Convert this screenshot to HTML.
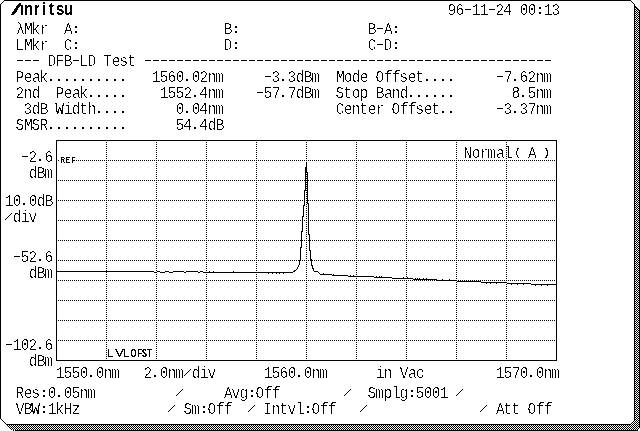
<!DOCTYPE html>
<html lang="en"><head><meta charset="utf-8"><title>Anritsu DFB-LD Test</title>
<style>
html,body{margin:0;padding:0;background:#fff;}
body{width:640px;height:431px;overflow:hidden;}
svg{display:block;}
.t{font-family:"Liberation Mono",monospace;font-size:16.69px;fill:#000;text-anchor:middle;white-space:pre;}
.d{font-size:20px;}.p{font-size:16px;}.z{stroke:none;}.c{font-size:13.1px;stroke:#000;stroke-width:0.4px;}.w{stroke:#000;stroke-width:0.3px;}.pr{font-size:11.8px;stroke:#000;stroke-width:0.5px;}
.sl{font-family:"Liberation Sans",sans-serif;font-size:13px;fill:#000;text-anchor:middle;}
.s{font-family:"Liberation Sans",sans-serif;fill:#000;}
.logo{font-family:"Liberation Sans",sans-serif;font-weight:bold;fill:#000;}
.px{shape-rendering:crispEdges;}
</style></head><body>
<svg width="640" height="431" viewBox="0 0 640 431">
<defs><pattern id="dz" x="0" y="0" width="2" height="2" patternUnits="userSpaceOnUse"><rect x="0" y="0" width="1" height="1" fill="#000"/><rect x="1" y="1" width="1" height="1" fill="#000"/></pattern><filter id="bw" x="0" y="0" width="640" height="431" filterUnits="userSpaceOnUse" color-interpolation-filters="sRGB"><feComponentTransfer><feFuncA type="discrete" tableValues="0 0 1"/></feComponentTransfer></filter><filter id="bw3" x="0" y="0" width="640" height="431" filterUnits="userSpaceOnUse" color-interpolation-filters="sRGB"><feComponentTransfer><feFuncA type="discrete" tableValues="0 0 1 1 1"/></feComponentTransfer></filter><filter id="bw2" x="0" y="-20" width="100" height="30" filterUnits="userSpaceOnUse" color-interpolation-filters="sRGB"><feComponentTransfer><feFuncA type="discrete" tableValues="0 1"/></feComponentTransfer></filter></defs>
<rect x="0" y="0" width="640" height="431" fill="#fff"/>
<g class="px">
<path d="M635 6h1v1h1v1h1v1h1v1h1V430H12v-1h-1v-1h-1v-1h-1v-1h-1v-1h-1H631v-1h1v-1h1v-1h1h1z" fill="url(#dz)"/>
<path fill="#000" d="M639 11h1v417h-1zM16 430h622v1h-622zM635 6h1v1h-1zM636 7h1v1h-1zM637 8h1v1h-1zM638 9h1v1h-1zM639 10h1v1h-1zM7 425h1v1h-1zM8 426h1v1h-1zM9 427h1v1h-1zM10 428h1v1h-1zM11 429h1v1h-1zM13 430h1v1h-1zM15 430h1v1h-1z"/>
<path fill="#fff" d="M639 428h1v1h-1zM639 429h1v1h-1zM639 430h1v1h-1zM638 429h1v1h-1zM638 430h1v1h-1z"/>
<path fill="#000" d="M4 0h627v1h-627zM0 4h1v415h-1zM634 4h1v417h-1zM6 424h625v1h-625zM3 1h1v1h-1zM2 2h1v1h-1zM1 3h1v1h-1zM631 1h1v1h-1zM632 2h1v1h-1zM633 3h1v1h-1zM1 419h1v1h-1zM2 420h1v1h-1zM3 421h1v1h-1zM4 422h1v1h-1zM5 423h1v1h-1zM633 421h1v1h-1zM632 422h1v1h-1zM631 423h1v1h-1z"/>
</g>
<g class="px" stroke="#000" stroke-width="1" fill="none">
<path d="M56 140.5 H557 M56 360.5 H557 M56.5 140 V361 M556.5 140 V361"/>
<path stroke-dasharray="1 1" d="M58 160.5 H556 M58 180.5 H556 M58 200.5 H556 M58 220.5 H556 M58 240.5 H556 M58 260.5 H556 M58 280.5 H556 M58 300.5 H556 M58 320.5 H556 M58 340.5 H556"/>
<path stroke-dasharray="1 1" d="M106.5 142 V360 M156.5 142 V360 M206.5 142 V360 M256.5 142 V360 M306.5 142 V360 M356.5 142 V360 M406.5 142 V360 M456.5 142 V360 M506.5 142 V360"/>
</g>
<g class="px">
<path d="M56 271h98v1h-98zM154 272h3v1h-3zM157 271h3v1h-3zM160 272h5v1h-5zM165 271h4v1h-4zM169 272h4v1h-4zM173 271h11v1h-11zM184 272h2v1h-2zM186 271h12v1h-12zM198 272h2v1h-2zM200 271h3v1h-3zM203 272h6v1h-6zM209 271h1v2h-1zM210 272h3v1h-3zM213 271h1v2h-1zM214 272h19v1h-19zM233 271h1v2h-1zM234 272h34v1h-34zM268 272h1v2h-1zM269 272h3v1h-3zM272 272h1v2h-1zM273 272h3v1h-3zM276 272h1v2h-1zM277 272h2v1h-2zM279 272h1v2h-1zM280 272h3v1h-3zM283 272h1v2h-1zM284 272h9v1h-9zM293 271h1v1h-1zM294 270h1v2h-1zM295 270h1v1h-1zM296 269h1v1h-1zM297 267h1v2h-1zM298 265h1v2h-1zM299 260h1v5h-1zM300 247h1v13h-1zM301 231h1v17h-1zM302 216h1v16h-1zM303 205h1v12h-1zM304 190h1v16h-1zM305 167h1v24h-1zM306 162h1v10h-1zM307 172h1v32h-1zM308 203h1v32h-1zM309 234h1v17h-1zM310 250h1v10h-1zM311 259h1v7h-1zM312 265h1v4h-1zM313 268h1v3h-1zM314 271h4v1h-4zM318 272h1v1h-1zM319 273h1v1h-1zM320 274h3v1h-3zM323 273h1v2h-1zM324 274h8v1h-8zM332 275h1v1h-1zM333 274h1v2h-1zM334 275h14v1h-14zM348 276h2v1h-2zM350 275h1v2h-1zM351 276h2v1h-2zM353 275h1v2h-1zM354 276h20v1h-20zM374 277h2v1h-2zM376 276h1v2h-1zM377 277h2v1h-2zM379 276h1v2h-1zM380 277h1v1h-1zM381 276h1v2h-1zM382 277h10v1h-10zM392 278h11v1h-11zM403 277h1v2h-1zM404 278h3v1h-3zM407 277h1v2h-1zM408 278h5v1h-5zM413 279h2v1h-2zM415 278h1v2h-1zM416 279h1v1h-1zM417 278h1v2h-1zM418 279h1v1h-1zM419 278h1v2h-1zM420 279h3v1h-3zM423 278h1v2h-1zM424 279h2v1h-2zM426 278h1v2h-1zM427 279h10v1h-10zM437 280h5v1h-5zM442 279h1v2h-1zM443 280h6v1h-6zM449 279h1v2h-1zM450 280h7v1h-7zM457 281h24v1h-24zM481 282h5v1h-5zM486 282h1v2h-1zM487 282h3v1h-3zM490 282h1v2h-1zM491 282h5v1h-5zM496 282h1v2h-1zM497 282h10v1h-10zM507 283h4v1h-4zM511 283h1v2h-1zM512 283h5v1h-5zM517 283h1v2h-1zM518 283h5v1h-5zM523 283h1v2h-1zM524 283h7v1h-7zM531 284h4v1h-4zM535 284h1v2h-1zM536 284h5v1h-5zM541 284h1v2h-1zM542 284h5v1h-5zM547 284h1v2h-1zM548 284h8v1h-8zM556 284h1v3h-1z" fill="#000"/>
</g>
<rect class="px" x="60" y="160" width="16" height="1" fill="#fff"/>
<g filter="url(#bw3)">
<g transform="translate(0,163) scale(0.62,1)"><text class="s" style="font-weight:bold;font-size:9.5px;text-anchor:middle" x="101.61 109.68 117.74" y="0">REF</text></g>
<g transform="translate(0,357)"><g transform="scale(1.1,1)"><text class="s" style="font-size:11.6px;text-anchor:middle" x="100.36 108.64 114.91" y="0">LVL</text></g><g transform="scale(0.62,1)"><text class="s" style="font-size:11.6px;text-anchor:middle;stroke:#000;stroke-width:0.3px" x="215.32 225.16 233.06 241.13" y="0">OFST</text></g></g>
</g>
<g transform="translate(0,15)"><g filter="url(#bw2)"><g transform="translate(10.6,0) skewX(-19.6) scale(0.98,1)"><text class="logo" style="font-size:17.44px;stroke:#000;stroke-width:0.8px" x="0" y="0">A</text></g></g><polygon class="px" points="14.3,0.5 21,0.5 21,-10.2" fill="#fff"/><rect class="px" x="21" y="-13" width="3" height="3" fill="#fff"/><g filter="url(#bw2)"><g transform="scale(0.8,1)"><text class="logo" style="font-size:18.5px;text-anchor:middle" x="35.62 45.75 55 64.25 75 85.5" y="0">nritsu</text></g></g></g>
<g filter="url(#bw)">
<g transform="translate(448,15) scale(0.877,1)"><text class="t" x="4.44 13.56" y="0">96</text></g><g transform="translate(448,13.1404) scale(1.37,0.82)"><text class="t" style="stroke:none" x="14.6" y="0">-</text></g><g transform="translate(448,15) scale(0.877,1)"><text class="t" x="32.09 41.21" y="0">11</text></g><g transform="translate(448,13.1404) scale(1.37,0.82)"><text class="t" style="stroke:none" x="32.12" y="0">-</text></g><g transform="translate(448,15) scale(0.877,1)"><text class="t" x="59.17 68.01 77.54 86.82 95.94 104.9 114.19 123.02" y="0 0 0 0 0 -1 0 0">24 <tspan class="z">0</tspan><tspan class="z">0</tspan><tspan class="c">:</tspan>13</text></g>
<g transform="translate(16,34) scale(0.877,1)"><text class="t" x="5.01 14.13 22.4 32.09" y="0">λMkr</text></g> <g transform="translate(16,34) scale(0.877,1)"><text class="t" x="59.74 68.42" y="0 -1">A<tspan class="c">:</tspan></text></g>
<g transform="translate(224,34) scale(0.877,1)"><text class="t" x="4.72 13.68" y="0 -1">B<tspan class="c">:</tspan></text></g>
<g transform="translate(368,34) scale(0.877,1)"><text class="t" x="4.72" y="0">B</text></g><g transform="translate(368,32.1404) scale(1.37,0.82)"><text class="t" style="stroke:none" x="8.76" y="0">-</text></g><g transform="translate(368,34) scale(0.877,1)"><text class="t" x="23.25 31.93" y="0 -1">A<tspan class="c">:</tspan></text></g>
<g transform="translate(16,50) scale(0.877,1)"><text class="t" x="4.15 14.13 22.4 32.09" y="0">LMkr</text></g> <g transform="translate(16,50) scale(0.877,1)"><text class="t" x="59.45 68.42" y="0 -1">C<tspan class="c">:</tspan></text></g>
<g transform="translate(224,50) scale(0.877,1)"><text class="t" x="4.44 13.68" y="0 -1">D<tspan class="c">:</tspan></text></g>
<g transform="translate(368,50) scale(0.877,1)"><text class="t" x="4.72" y="0">C</text></g><g transform="translate(368,48.1404) scale(1.37,0.82)"><text class="t" style="stroke:none" x="8.76" y="0">-</text></g><g transform="translate(368,50) scale(0.877,1)"><text class="t" x="22.68 31.93" y="0 -1">D<tspan class="c">:</tspan></text></g>
<g transform="translate(16,64.1404) scale(1.37,0.82)"><text class="t" style="stroke:none" x="2.92 8.76 14.6" y="0">---</text></g>
<g transform="translate(48,66) scale(0.877,1)"><text class="t" x="4.44 13.56 22.97" y="0">DFB</text></g><g transform="translate(48,64.1404) scale(1.37,0.82)"><text class="t" style="stroke:none" x="20.44" y="0">-</text></g><g transform="translate(48,66) scale(0.877,1)"><text class="t" x="40.64 50.05 59.29 68.01 77.7 86.53 95.37" y="0">LD Test</text></g>
<g transform="translate(144,64.1404) scale(1.37,0.82)"><text class="t" style="stroke:none" x="2.92 8.76 14.6 20.44 26.28 32.12 37.96 43.8 49.64 55.47 61.31 67.15 72.99 78.83 84.67 90.51 96.35 102.19 108.03 113.87 119.71 125.55 131.39 137.23 143.07 148.91 154.74 160.58 166.42 172.26 178.1 183.94 189.78 195.62 201.46 207.3 213.14 218.98 224.82 230.66 236.5 242.34 248.18 254.01 259.85 265.69 271.53 277.37 283.21 289.05 294.89" y="0">---------------------------------------------------</text></g>
<g transform="translate(16,82) scale(0.877,1)"><text class="t" x="4.44 13.84 23.25 31.52 39.91 49.03 58.15 67.27 76.4 85.52 94.64 103.76 112.88 122.01" y="0 0 0 0 -0.85 -0.85 -0.85 -0.85 -0.85 -0.85 -0.85 -0.85 -0.85 -0.85">Peak<tspan class="p">.</tspan><tspan class="p">.</tspan><tspan class="p">.</tspan><tspan class="p">.</tspan><tspan class="p">.</tspan><tspan class="p">.</tspan><tspan class="p">.</tspan><tspan class="p">.</tspan><tspan class="p">.</tspan><tspan class="p">.</tspan></text></g>
<g transform="translate(152,82) scale(0.877,1)"><text class="t" x="4.72 13.56 22.68 32.09 39.91 50.33 59.17 68.29 77.13" y="0 0 0 0 -0.85 0 0 0 0">156<tspan class="z">0</tspan><tspan class="p">.</tspan><tspan class="z">0</tspan>2nm</text></g>
<g transform="translate(264,80.1404) scale(1.37,0.82)"><text class="t" style="stroke:none" x="2.92" y="0">-</text></g><g transform="translate(264,82) scale(0.877,1)"><text class="t" x="13.56 21.66 31.8 41.21 50.33 58.88" y="0 -0.85 0 0 0 0">3<tspan class="p">.</tspan>3dBm</text></g>
<g transform="translate(336,82) scale(0.877,1)"><text class="t" x="5.01 13.84 22.97 32.09 41.05 50.05 59.74 68.86 77.41 86.82 95.37 103.76 112.88 122.01 131.13" y="0 0 0 0 0 0 0 0 0 0 0 -0.85 -0.85 -0.85 -0.85">Mode Offset<tspan class="p">.</tspan><tspan class="p">.</tspan><tspan class="p">.</tspan><tspan class="p">.</tspan></text></g>
<g transform="translate(496,80.1404) scale(1.37,0.82)"><text class="t" style="stroke:none" x="2.92" y="0">-</text></g><g transform="translate(496,82) scale(0.877,1)"><text class="t" x="14.13 21.66 31.8 40.92 50.05 58.88" y="0 -0.85 0 0 0 0">7<tspan class="p">.</tspan>62nm</text></g>
<g transform="translate(16,98) scale(0.877,1)"><text class="t" x="4.44 13.56 22.97" y="0">2nd</text></g> <g transform="translate(16,98) scale(0.877,1)"><text class="t" x="50.05 59.45 68.86 77.13 85.52 94.64 103.76 112.88 122.01" y="0 0 0 0 -0.85 -0.85 -0.85 -0.85 -0.85">Peak<tspan class="p">.</tspan><tspan class="p">.</tspan><tspan class="p">.</tspan><tspan class="p">.</tspan><tspan class="p">.</tspan></text></g>
<g transform="translate(160,98) scale(0.877,1)"><text class="t" x="4.72 13.56 22.68 31.8 39.91 49.76 59.17 68.01" y="0 0 0 0 -0.85 0 0 0">1552<tspan class="p">.</tspan>4nm</text></g>
<g transform="translate(256,96.1404) scale(1.37,0.82)"><text class="t" style="stroke:none" x="2.92" y="0">-</text></g><g transform="translate(256,98) scale(0.877,1)"><text class="t" x="13.56 23.25 30.79 41.49 50.33 59.45 68.01" y="0 0 -0.85 0 0 0 0">57<tspan class="p">.</tspan>7dBm</text></g>
<g transform="translate(336,98) scale(0.877,1)"><text class="t" x="4.44 13.27 22.97 31.8 41.05 50.33 59.74 68.29 77.7 85.52 94.64 103.76 112.88 122.01 131.13" y="0 0 0 0 0 0 0 0 0 -0.85 -0.85 -0.85 -0.85 -0.85 -0.85">Stop Band<tspan class="p">.</tspan><tspan class="p">.</tspan><tspan class="p">.</tspan><tspan class="p">.</tspan><tspan class="p">.</tspan><tspan class="p">.</tspan></text></g>
<g transform="translate(512,98) scale(0.877,1)"><text class="t" x="4.44 12.54 22.68 31.8 40.64" y="0 -0.85 0 0 0">8<tspan class="p">.</tspan>5nm</text></g>
<g transform="translate(16,114) scale(0.877,1)"><text class="t" x="13.56 22.97 32.09 41.05 49.76 59.45 68.58 77.13 86.53 94.64 103.76 112.88 122.01" y="0 0 0 0 0 0 0 0 0 -0.85 -0.85 -0.85 -0.85">3dB <tspan class="w">W</tspan>idth<tspan class="p">.</tspan><tspan class="p">.</tspan><tspan class="p">.</tspan><tspan class="p">.</tspan></text></g>
<g transform="translate(176,114) scale(0.877,1)"><text class="t" x="4.72 12.54 22.97 31.52 40.92 49.76" y="0 -0.85 0 0 0 0"><tspan class="z">0</tspan><tspan class="p">.</tspan><tspan class="z">0</tspan>4nm</text></g>
<g transform="translate(336,114) scale(0.877,1)"><text class="t" x="4.72 13.84 22.68 31.52 41.21 50.33 59.29 68.29 77.98 87.1 95.66 105.06 113.62 122.01 131.13" y="0 0 0 0 0 0 0 0 0 0 0 0 0 -0.85 -0.85">Center Offset<tspan class="p">.</tspan><tspan class="p">.</tspan></text></g>
<g transform="translate(496,112.14) scale(1.37,0.82)"><text class="t" style="stroke:none" x="2.92" y="0">-</text></g><g transform="translate(496,114) scale(0.877,1)"><text class="t" x="13.56 21.66 31.8 41.49 50.05 58.88" y="0 -0.85 0 0 0 0">3<tspan class="p">.</tspan>37nm</text></g>
<g transform="translate(16,130) scale(0.877,1)"><text class="t" x="4.44 14.13 22.68 31.8 39.91 49.03 58.15 67.27 76.4 85.52 94.64 103.76 112.88 122.01" y="0 0 0 0 -0.85 -0.85 -0.85 -0.85 -0.85 -0.85 -0.85 -0.85 -0.85 -0.85">SMSR<tspan class="p">.</tspan><tspan class="p">.</tspan><tspan class="p">.</tspan><tspan class="p">.</tspan><tspan class="p">.</tspan><tspan class="p">.</tspan><tspan class="p">.</tspan><tspan class="p">.</tspan><tspan class="p">.</tspan><tspan class="p">.</tspan></text></g>
<g transform="translate(176,130) scale(0.877,1)"><text class="t" x="4.44 13.27 21.66 31.52 41.21 50.33" y="0 0 -0.85 0 0 0">54<tspan class="p">.</tspan>4dB</text></g>
<g transform="translate(21,160.14) scale(1.37,0.82)"><text class="t" style="stroke:none" x="2.92" y="0">-</text></g><g transform="translate(21,162) scale(0.877,1)"><text class="t" x="13.56 21.66 31.8" y="0 -0.85 0">2<tspan class="p">.</tspan>6</text></g>
<g transform="translate(29,178) scale(0.877,1)"><text class="t" x="4.72 13.84 22.4" y="0">dBm</text></g>
<g transform="translate(5,206) scale(0.877,1)"><text class="t" x="4.72 13.84 21.66 32.09 41.21 50.33" y="0 0 -0.85 0 0 0">1<tspan class="z">0</tspan><tspan class="p">.</tspan><tspan class="z">0</tspan>dB</text></g>
<g transform="translate(8.5,216.5) rotate(30)"><text class="sl" x="0" y="4.5">/</text></g><g transform="translate(5,222) scale(0.877,1)"><text class="t" x="13.84 22.97 31.8" y="0">div</text></g>
<g transform="translate(13,260.14) scale(1.37,0.82)"><text class="t" style="stroke:none" x="2.92" y="0">-</text></g><g transform="translate(13,262) scale(0.877,1)"><text class="t" x="13.56 22.68 30.79 40.92" y="0 0 -0.85 0">52<tspan class="p">.</tspan>6</text></g>
<g transform="translate(29,278) scale(0.877,1)"><text class="t" x="4.72 13.84 22.4" y="0">dBm</text></g>
<g transform="translate(5,348.14) scale(1.37,0.82)"><text class="t" style="stroke:none" x="2.92" y="0">-</text></g><g transform="translate(5,350) scale(0.877,1)"><text class="t" x="13.84 22.97 31.8 39.91 50.05" y="0 0 0 -0.85 0">1<tspan class="z">0</tspan>2<tspan class="p">.</tspan>6</text></g>
<g transform="translate(29,366) scale(0.877,1)"><text class="t" x="4.72 13.84 22.4" y="0">dBm</text></g>
<g transform="translate(464,158) scale(0.877,1)"><text class="t" x="4.44 13.84 22.97 31.52 41.49 50.33 61 68.42 77.98 86.66 94.07" y="0 0 0 0 0 0 -2.45 0 0 0 -2.45">Normal<tspan class="pr">(</tspan> A <tspan class="pr">)</tspan></text></g>
<g transform="translate(56,378) scale(0.877,1)"><text class="t" x="4.72 13.56 22.68 32.09 39.91 50.33 59.17 68.01" y="0 0 0 0 -0.85 0 0 0">155<tspan class="z">0</tspan><tspan class="p">.</tspan><tspan class="z">0</tspan>nm</text></g>
<g transform="translate(144,378) scale(0.877,1)"><text class="t" x="4.44 12.54 22.97 31.8 40.64" y="0 -0.85 0 0 0">2<tspan class="p">.</tspan><tspan class="z">0</tspan>nm</text></g><g transform="translate(187.5,372.5) rotate(30)"><text class="sl" x="0" y="4.5">/</text></g><g transform="translate(144,378) scale(0.877,1)"><text class="t" x="59.45 68.58 77.41" y="0">div</text></g>
<g transform="translate(264,378) scale(0.877,1)"><text class="t" x="4.72 13.56 22.68 32.09 39.91 50.33 59.17 68.01" y="0 0 0 0 -0.85 0 0 0">156<tspan class="z">0</tspan><tspan class="p">.</tspan><tspan class="z">0</tspan>nm</text></g>
<g transform="translate(376,378) scale(0.877,1)"><text class="t" x="4.72 13.56 22.81 32.09 41.49 50.33" y="0">in Vac</text></g>
<g transform="translate(496,378) scale(0.877,1)"><text class="t" x="4.72 13.56 23.25 32.09 39.91 50.33 59.17 68.01" y="0 0 0 0 -0.85 0 0 0">157<tspan class="z">0</tspan><tspan class="p">.</tspan><tspan class="z">0</tspan>nm</text></g>
<g transform="translate(16,398) scale(0.877,1)"><text class="t" x="4.44 13.84 22.68 31.93 41.21 49.03 59.45 68.29 77.41 86.25" y="0 0 0 -1 0 -0.85 0 0 0 0">Res<tspan class="c">:</tspan><tspan class="z">0</tspan><tspan class="p">.</tspan><tspan class="z">0</tspan>5nm</text></g>
<g transform="translate(179.5,392.5) rotate(30)"><text class="sl" x="0" y="4.5">/</text></g>
<g transform="translate(224,398) scale(0.877,1)"><text class="t" x="5.01 13.56 22.68 31.93 40.92 50.62 59.74" y="0 0 0 -1 0 0 0">Avg<tspan class="c">:</tspan>Off</text></g>
<g transform="translate(347.5,392.5) rotate(30)"><text class="sl" x="0" y="4.5">/</text></g>
<g transform="translate(368,398) scale(0.877,1)"><text class="t" x="4.44 13.27 22.68 32.09 40.92 50.17 59.17 68.58 77.7 86.82" y="0 0 0 0 0 -1 0 0 0 0">Smplg<tspan class="c">:</tspan>5<tspan class="z">0</tspan><tspan class="z">0</tspan>1</text></g>
<g transform="translate(459.5,392.5) rotate(30)"><text class="sl" x="0" y="4.5">/</text></g>
<g transform="translate(16,414) scale(0.877,1)"><text class="t" x="4.72 13.84 22.4 31.93 41.21 49.76 59.45 68.58" y="0 0 0 -1 0 0 0 0">VB<tspan class="w">W</tspan><tspan class="c">:</tspan>1kHz</text></g>
<g transform="translate(171.5,408.5) rotate(30)"><text class="sl" x="0" y="4.5">/</text></g> <g transform="translate(168,414) scale(0.877,1)"><text class="t" x="22.68 31.52 41.05 50.05 59.74 68.86" y="0 0 -1 0 0 0">Sm<tspan class="c">:</tspan>Off</text></g>
<g transform="translate(251.5,408.5) rotate(30)"><text class="sl" x="0" y="4.5">/</text></g> <g transform="translate(248,414) scale(0.877,1)"><text class="t" x="22.4 31.8 40.64 50.05 59.45 68.42 77.41 87.1 96.23" y="0 0 0 0 0 -1 0 0 0">Intvl<tspan class="c">:</tspan>Off</text></g>
<g transform="translate(363.5,408.5) rotate(30)"><text class="sl" x="0" y="4.5">/</text></g>
<g transform="translate(483.5,408.5) rotate(30)"><text class="sl" x="0" y="4.5">/</text></g> <g transform="translate(480,414) scale(0.877,1)"><text class="t" x="23.25 31.52 40.64 50.17 59.17 68.86 77.98" y="0">Att Off</text></g>
</g>
</svg>
</body></html>
